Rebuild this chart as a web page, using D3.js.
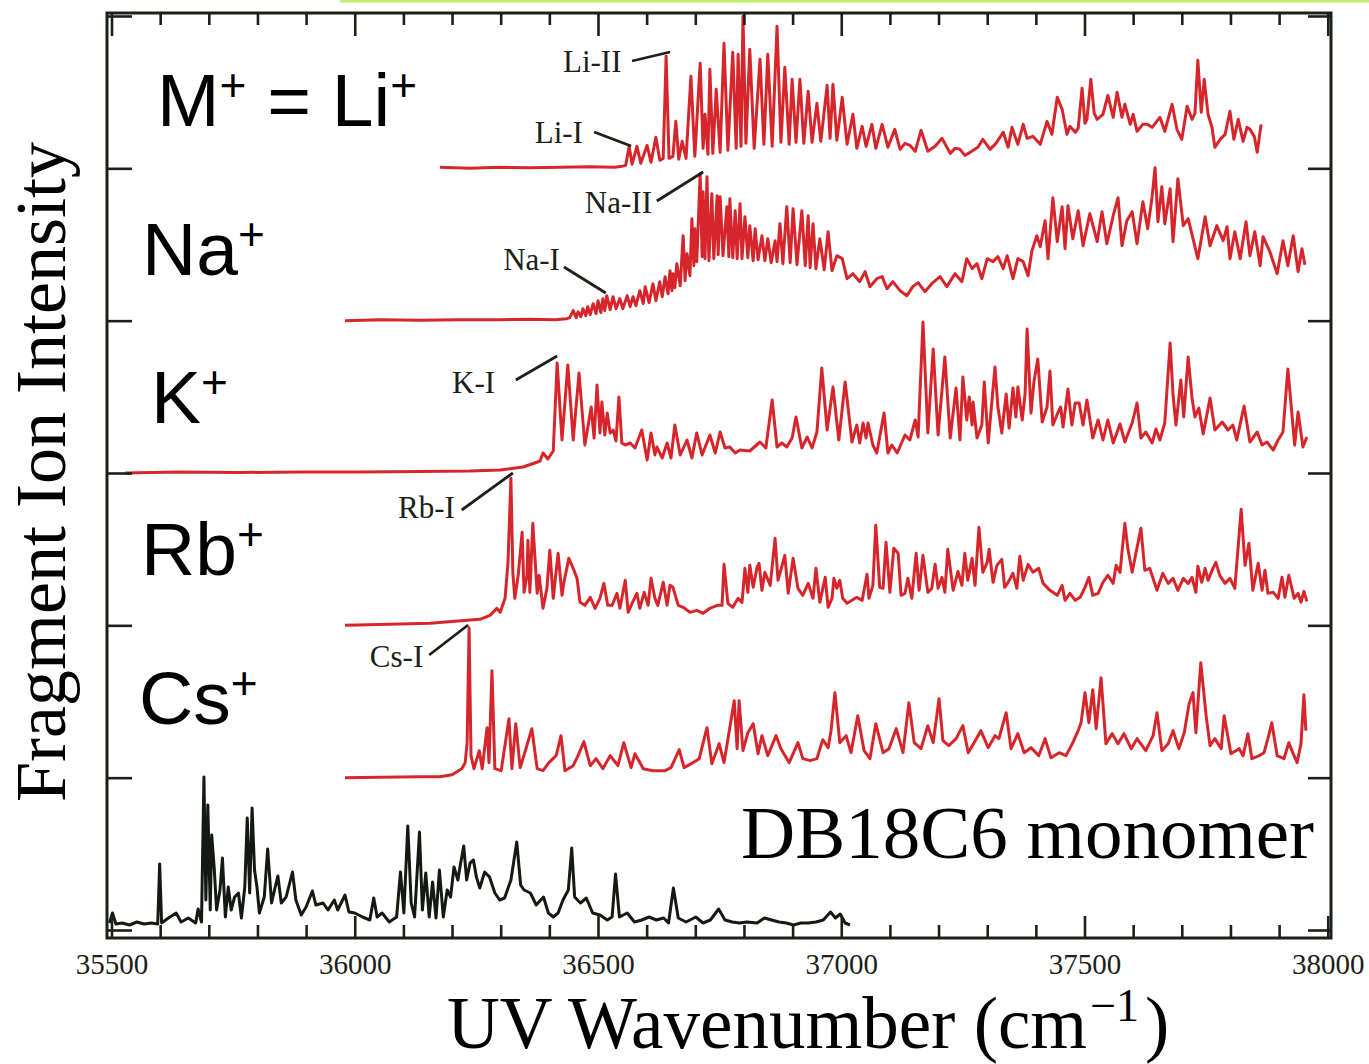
<!DOCTYPE html>
<html><head><meta charset="utf-8">
<script src="https://cdn.jsdelivr.net/npm/d3@7"></script>
<style>body{margin:0;background:#fff}svg{display:block}text{white-space:pre}</style>
</head><body>
<svg id="chart" width="1369" height="1064"></svg>
<script>
// ---------- data (wavenumber cm^-1, relative fragment-ion intensity a.u.) ----------
const xMajorTicks = [35500, 36000, 36500, 37000, 37500, 38000];
const panelNames = ["DB18C6", "Cs", "Rb", "K", "Na", "Li"];

const liSpectrum = [[36175,1],[36237,0],[36299,1],[36360,0.5],[36422,1],[36484,1.5],[36535,1],[36549,2],[36557,3],
[36564,22],[36570,4],[36580,22],[36588,5],[36601,23],[36609,6],[36619,31],[36627,8],[36634,10],[36640,112],[36646,10],
[36654,12],[36660,47],[36666,9],[36673,27],[36681,10],[36691,92],[36699,12],[36710,105],[36716,20],[36720,54],[36726,14],
[36730,99],[36736,15],[36743,79],[36751,16],[36759,125],[36767,18],[36777,116],[36784,20],[36788,114],[36794,22],[36798,152],
[36804,25],[36812,119],[36821,20],[36833,109],[36841,24],[36849,114],[36858,22],[36868,142],[36876,26],[36884,101],[36893,24],
[36899,89],[36907,26],[36915,89],[36923,25],[36932,77],[36940,26],[36950,65],[36958,27],[36971,83],[36977,30],[36983,84],
[36991,28],[37002,71],[37012,24],[37024,54],[37032,20],[37043,42],[37051,22],[37063,44],[37071,20],[37084,44],[37096,21],
[37110,39],[37121,19],[37131,25],[37141,23],[37152,17],[37164,38],[37178,17],[37193,22],[37207,30],[37224,15],[37234,20],
[37244,19],[37254,13],[37265,16],[37281,21],[37291,29],[37306,19],[37318,25],[37333,36],[37343,21],[37351,41],[37363,24],
[37374,44],[37382,30],[37394,32],[37409,24],[37423,47],[37433,34],[37444,71],[37454,59],[37464,34],[37470,42],[37481,36],
[37487,40],[37495,80],[37501,45],[37505,49],[37513,89],[37520,55],[37526,49],[37538,54],[37548,73],[37559,51],[37567,76],
[37577,51],[37583,64],[37594,44],[37600,54],[37608,37],[37620,44],[37629,44],[37639,41],[37655,51],[37665,37],[37680,64],
[37690,39],[37700,29],[37711,62],[37721,49],[37727,55],[37733,108],[37740,56],[37746,89],[37754,54],[37762,41],[37768,21],
[37779,29],[37789,34],[37799,57],[37807,29],[37816,49],[37826,27],[37834,41],[37840,39],[37849,32],[37855,16],[37863,44]];

const naSpectrum = [[35980,0],[36052,1],[36134,0.5],[36216,1],[36299,1],[36360,1.5],[36412,1],[36436,2],[36442,3],[36449,10],
[36455,3],[36459,9],[36465,4],[36469,12],[36475,5],[36479,14],[36484,6],[36490,17],[36496,7],[36500,20],[36506,8],[36510,22],
[36514,10],[36518,25],[36525,11],[36531,24],[36537,12],[36545,22],[36551,12],[36560,25],[36566,14],[36572,24],[36578,15],
[36586,30],[36593,17],[36597,34],[36605,18],[36613,37],[36619,20],[36627,39],[36632,24],[36638,44],[36644,27],[36648,50],
[36652,30],[36654,47],[36658,33],[36662,57],[36669,35],[36675,85],[36679,40],[36683,67],[36689,45],[36693,102],[36697,55],
[36699,92],[36703,59],[36710,147],[36714,64],[36716,129],[36720,62],[36724,144],[36728,60],[36734,127],[36738,62],[36745,125],
[36747,66],[36751,124],[36757,65],[36765,114],[36769,64],[36771,122],[36777,63],[36782,110],[36786,62],[36792,117],[36796,62],
[36802,104],[36808,63],[36812,95],[36819,60],[36823,92],[36829,61],[36837,85],[36843,60],[36849,82],[36856,58],[36864,80],
[36868,59],[36874,97],[36880,57],[36888,114],[36895,58],[36901,112],[36909,56],[36919,110],[36926,55],[36932,105],[36936,53],
[36942,97],[36948,52],[36956,82],[36965,51],[36973,89],[36981,50],[36991,65],[37002,62],[37012,42],[37024,47],[37038,39],
[37049,49],[37059,34],[37073,42],[37084,44],[37094,32],[37106,39],[37121,30],[37135,25],[37147,34],[37158,38],[37172,29],
[37186,37],[37203,44],[37217,34],[37234,47],[37248,39],[37258,62],[37269,52],[37279,57],[37289,42],[37300,62],[37312,59],
[37322,64],[37333,52],[37341,65],[37353,42],[37363,62],[37374,59],[37384,45],[37392,70],[37402,85],[37409,74],[37419,100],
[37425,62],[37435,123],[37444,79],[37454,114],[37460,72],[37466,115],[37476,82],[37487,110],[37497,75],[37511,107],[37526,79],
[37536,109],[37546,77],[37559,105],[37569,123],[37577,75],[37587,100],[37598,109],[37608,77],[37620,119],[37630,92],[37639,124],
[37645,153],[37651,99],[37659,134],[37665,97],[37676,132],[37682,79],[37692,142],[37703,95],[37713,102],[37723,82],[37733,62],
[37748,104],[37758,75],[37772,95],[37785,80],[37793,94],[37799,62],[37809,89],[37820,62],[37832,99],[37840,65],[37850,89],
[37861,55],[37867,84],[37881,69],[37896,47],[37908,80],[37918,55],[37929,85],[37939,49],[37947,72],[37953,56]];

const kSpectrum = [[35528,0],[35641,1],[35764,0.5],[35887,1],[36011,1],[36134,1.5],[36237,2],[36299,3],[36346,6],[36370,10],
[36381,12],[36387,20],[36397,14],[36408,22],[36416,110],[36426,33],[36438,108],[36449,33],[36461,100],[36473,28],[36486,66],
[36492,35],[36498,88],[36504,40],[36508,71],[36514,38],[36519,60],[36525,40],[36531,43],[36537,32],[36543,76],[36549,30],
[36556,28],[36566,30],[36576,25],[36590,43],[36601,13],[36609,40],[36617,18],[36621,26],[36632,15],[36642,30],[36650,15],
[36658,48],[36669,18],[36683,33],[36693,15],[36703,40],[36714,18],[36730,38],[36741,20],[36751,41],[36761,25],[36771,26],
[36782,20],[36792,23],[36812,22],[36833,31],[36845,25],[36858,73],[36868,26],[36878,30],[36888,26],[36899,35],[36907,56],
[36919,25],[36930,36],[36940,25],[36950,41],[36960,105],[36971,43],[36983,86],[36995,33],[37008,91],[37022,31],[37032,48],
[37038,30],[37045,50],[37051,35],[37055,50],[37065,28],[37073,20],[37088,60],[37096,20],[37104,28],[37115,20],[37131,38],
[37141,33],[37152,53],[37158,36],[37168,151],[37178,40],[37189,124],[37199,38],[37213,116],[37224,35],[37236,85],[37244,33],
[37250,96],[37258,53],[37263,76],[37269,48],[37271,71],[37279,35],[37289,48],[37294,91],[37302,30],[37316,106],[37322,66],
[37330,40],[37339,79],[37345,45],[37353,85],[37359,56],[37363,86],[37372,53],[37378,80],[37382,144],[37390,60],[37396,91],
[37404,114],[37413,51],[37423,66],[37429,102],[37435,48],[37445,60],[37451,66],[37456,46],[37466,84],[37474,48],[37481,70],
[37489,70],[37497,48],[37505,73],[37517,35],[37528,53],[37538,33],[37548,53],[37559,30],[37573,49],[37583,31],[37598,50],
[37608,70],[37616,35],[37626,41],[37639,30],[37647,44],[37655,33],[37665,50],[37676,130],[37682,78],[37688,48],[37698,93],
[37704,56],[37713,116],[37721,75],[37727,56],[37735,65],[37744,39],[37758,75],[37768,43],[37783,51],[37795,43],[37805,48],
[37813,33],[37828,67],[37840,31],[37855,41],[37865,28],[37875,31],[37888,23],[37898,33],[37908,41],[37918,104],[37926,61],
[37932,28],[37939,61],[37949,26],[37957,36]];

const rbSpectrum = [[35980,0],[36072,1],[36155,2],[36231,5],[36257,6],[36278,10],[36284,13],[36292,17],[36299,13],[36309,27],
[36315,63],[36321,147],[36325,52],[36329,27],[36336,50],[36344,93],[36348,33],[36354,50],[36356,85],[36360,33],[36366,102],
[36375,32],[36379,50],[36387,17],[36395,37],[36401,75],[36408,27],[36418,72],[36426,30],[36430,43],[36440,67],[36449,57],
[36457,47],[36463,23],[36473,20],[36484,28],[36494,17],[36504,27],[36512,42],[36520,20],[36529,20],[36539,32],[36545,17],
[36556,45],[36562,13],[36570,22],[36580,32],[36586,17],[36595,33],[36603,20],[36609,47],[36617,27],[36623,20],[36634,43],
[36642,20],[36648,40],[36654,38],[36665,20],[36675,18],[36689,13],[36703,15],[36716,12],[36730,17],[36745,20],[36755,20],
[36759,61],[36767,22],[36777,18],[36788,27],[36796,23],[36802,57],[36808,33],[36812,60],[36819,38],[36827,58],[36831,62],
[36837,35],[36843,53],[36854,40],[36864,87],[36870,45],[36884,70],[36891,32],[36901,67],[36911,37],[36921,30],[36932,42],
[36942,27],[36948,57],[36956,23],[36967,48],[36973,18],[36981,27],[36985,47],[36991,37],[36997,45],[37003,27],[37012,22],
[37022,25],[37032,28],[37043,25],[37053,51],[37057,27],[37065,40],[37071,100],[37079,38],[37086,37],[37092,83],[37100,33],
[37108,77],[37117,72],[37123,30],[37131,32],[37137,47],[37145,27],[37154,72],[37160,35],[37168,70],[37178,33],[37186,37],
[37193,61],[37199,37],[37207,48],[37213,33],[37219,76],[37230,35],[37240,54],[37248,40],[37254,72],[37260,45],[37269,67],
[37275,40],[37283,98],[37291,53],[37300,63],[37304,76],[37312,43],[37320,60],[37330,66],[37336,38],[37343,43],[37353,52],
[37361,37],[37367,69],[37374,45],[37384,61],[37394,53],[37406,57],[37415,42],[37429,35],[37444,30],[37454,40],[37460,25],
[37470,32],[37481,25],[37491,28],[37501,38],[37509,48],[37517,30],[37528,32],[37538,43],[37548,50],[37559,42],[37565,60],
[37573,53],[37583,102],[37589,77],[37598,53],[37604,68],[37616,97],[37624,55],[37634,57],[37649,35],[37661,52],[37672,42],
[37682,47],[37692,35],[37703,47],[37713,42],[37721,48],[37729,33],[37733,59],[37741,43],[37748,57],[37754,45],[37764,57],
[37770,63],[37778,50],[37789,42],[37799,47],[37809,37],[37822,116],[37830,60],[37838,82],[37846,35],[37857,62],[37865,35],
[37871,55],[37877,32],[37888,33],[37898,27],[37906,48],[37912,28],[37920,50],[37931,27],[37939,32],[37945,23],[37951,34],[37957,24]];

const csSpectrum = [[35980,0],[36052,0.5],[36134,1],[36175,1],[36200,3],[36220,9],[36227,15],[36231,35],[36235,150],[36239,22],
[36245,9],[36256,27],[36262,9],[36272,50],[36276,15],[36282,107],[36288,9],[36301,7],[36317,59],[36323,9],[36331,54],[36340,10],
[36352,29],[36364,49],[36375,9],[36387,7],[36399,15],[36414,22],[36424,42],[36432,7],[36449,12],[36459,22],[36471,36],[36484,12],
[36496,19],[36510,9],[36525,22],[36541,12],[36553,35],[36568,10],[36576,24],[36593,9],[36613,7],[36638,7],[36650,10],[36667,28],
[36677,10],[36695,15],[36708,19],[36724,50],[36734,14],[36749,34],[36759,15],[36775,62],[36780,77],[36786,29],[36790,77],[36798,27],
[36808,45],[36819,54],[36829,24],[36837,42],[36849,22],[36866,42],[36876,29],[36893,15],[36911,35],[36921,19],[36936,17],[36950,19],
[36962,38],[36973,30],[36979,47],[36987,85],[36997,35],[37010,42],[37020,25],[37034,62],[37047,27],[37059,19],[37071,54],[37086,25],
[37098,29],[37113,49],[37127,25],[37139,75],[37150,35],[37164,29],[37178,52],[37189,35],[37201,79],[37209,37],[37221,32],[37236,39],
[37250,52],[37261,25],[37273,35],[37287,47],[37302,30],[37316,42],[37324,39],[37339,65],[37349,29],[37363,44],[37376,25],[37390,30],
[37406,22],[37419,39],[37431,20],[37448,25],[37462,22],[37476,35],[37487,47],[37493,55],[37501,85],[37509,55],[37517,88],[37524,49],
[37534,100],[37544,34],[37557,44],[37569,34],[37581,44],[37596,29],[37608,39],[37626,27],[37641,42],[37649,65],[37659,27],[37672,34],
[37682,47],[37694,29],[37705,45],[37715,74],[37723,85],[37729,45],[37739,115],[37750,62],[37758,32],[37768,39],[37781,29],[37787,62],
[37801,24],[37818,29],[37826,22],[37836,44],[37844,19],[37859,22],[37869,25],[37877,39],[37885,55],[37896,22],[37910,19],[37920,35],
[37928,25],[37937,15],[37945,34],[37951,83],[37955,47]];

const dbSpectrum = [[35496,7],[35502,17],[35509,6],[35522,7],[35537,5],[35552,8],[35567,6],[35582,7],[35595,6],[35599,66],[35603,7],
[35617,12],[35633,17],[35643,8],[35658,12],[35673,7],[35678,21],[35685,8],[35690,153],[35694,30],[35698,125],[35703,20],[35706,95],
[35711,63],[35716,20],[35723,40],[35728,72],[35734,13],[35740,43],[35746,20],[35753,33],[35761,37],[35767,12],[35774,43],[35779,112],
[35784,37],[35789,122],[35794,60],[35799,43],[35804,17],[35814,33],[35821,81],[35829,27],[35836,42],[35842,54],[35849,27],[35859,33],
[35872,58],[35879,30],[35890,15],[35900,23],[35913,39],[35920,25],[35935,27],[35945,20],[35958,30],[35965,20],[35980,35],[35988,18],
[36000,17],[36016,13],[36031,10],[36039,32],[36046,13],[36056,17],[36071,8],[36086,13],[36094,58],[36101,17],[36109,104],[36116,27],
[36123,13],[36133,98],[36139,20],[36146,57],[36153,13],[36160,48],[36167,12],[36174,60],[36182,13],[36190,40],[36197,33],[36204,63],
[36212,50],[36217,65],[36224,84],[36230,50],[36237,67],[36244,70],[36250,53],[36257,42],[36267,58],[36277,53],[36288,37],[36298,30],
[36308,32],[36321,50],[36333,88],[36341,45],[36348,40],[36361,37],[36373,25],[36388,33],[36398,17],[36408,13],[36418,17],[36428,30],
[36439,40],[36446,82],[36452,33],[36464,27],[36476,32],[36489,17],[36504,15],[36519,10],[36529,13],[36536,56],[36544,13],[36560,17],
[36575,8],[36590,10],[36605,13],[36620,10],[36635,12],[36645,7],[36655,42],[36665,12],[36681,8],[36701,13],[36716,7],[36731,10],
[36748,21],[36761,10],[36776,8],[36791,7],[36806,8],[36827,7],[36842,12],[36857,10],[36872,8],[36887,7],[36902,5],[36917,7],
[36932,7],[36948,8],[36963,10],[36978,18],[36988,12],[36998,16],[37008,7],[37018,5]];

// panel index: 0 = DB18C6 (bottom) ... 5 = Li (top)
const series = [
  {name: "DB18C6", data: dbSpectrum, panel: 0, color: "#141a12"},
  {name: "Cs", data: csSpectrum, panel: 1, color: "#d7262b"},
  {name: "Rb", data: rbSpectrum, panel: 2, color: "#d7262b"},
  {name: "K",  data: kSpectrum,  panel: 3, color: "#d7262b"},
  {name: "Na", data: naSpectrum, panel: 4, color: "#d7262b"},
  {name: "Li", data: liSpectrum, panel: 5, color: "#d7262b"}
];

// peak annotations: label, text anchor (w, level), leader from (w1,l1) to (w2,l2)  (level in a.u. from bottom)
const annotations = [
  {t: "Li-II", tx: 36428, ty: 858, l: [36570, 869, 36648, 878]},
  {t: "Li-I",  tx: 36370, ty: 787, l: [36492, 798, 36568, 784]},
  {t: "Na-II", tx: 36473, ty: 717, l: [36621, 729, 36716, 758]},
  {t: "Na-I",  tx: 36305, ty: 660, l: [36430, 663, 36516, 637]},
  {t: "K-I",   tx: 36200, ty: 537, l: [36331, 550, 36416, 574]},
  {t: "Rb-I",  tx: 36089, ty: 412, l: [36220, 420, 36325, 457]},
  {t: "Cs-I",  tx: 36031, ty: 263, l: [36153, 275, 36233, 305]}
];

// ---------- layout ----------
const W = 1369, H = 1064;
const frame = {left: 107, right: 1331, top: 13, bottom: 938};
const panelSpan = 914 / 6;
const serif = "'Liberation Serif','Times New Roman',Times,serif";
const sans = "'Liberation Sans',Arial,Helvetica,sans-serif";
const ink = "#1b2119";

const svg = d3.select("#chart");
const x = d3.scaleLinear().domain([35500, 38000]).range([111.5, 1327.75]);
const y = d3.scaleLinear().domain([0, 914]).range([930, 16]);

// top decorative green line
svg.append("rect").attr("x", 340).attr("y", 0).attr("width", W - 340).attr("height", 2.5).attr("fill", "#bdf06a");

// spectra
const line = d3.line().x(d => x(d[0])).y(d => y(d[1]));
series.forEach(s => {
  const off = s.panel * panelSpan;
  svg.append("path")
    .datum(s.data.map(d => [d[0], d[1] + off]))
    .attr("d", line)
    .attr("fill", "none")
    .attr("stroke", s.color)
    .attr("stroke-width", 3)
    .attr("stroke-linejoin", "round");
});

// axes ticks
const minorTicks = d3.range(35500, 38001, 100).filter(v => v % 500 !== 0);
const gB = svg.append("g").attr("transform", `translate(0,${frame.bottom})`);
gB.call(d3.axisBottom(x).tickValues(minorTicks).tickSize(-13).tickFormat(""));
const gBM = svg.append("g").attr("transform", `translate(0,${frame.bottom})`);
gBM.call(d3.axisBottom(x).tickValues(xMajorTicks).tickSize(-22).tickFormat(d3.format("d")).tickPadding(10));
const gT = svg.append("g").attr("transform", `translate(0,${frame.top})`);
gT.call(d3.axisTop(x).tickValues(minorTicks).tickSize(-12).tickFormat(""));
const gTM = svg.append("g").attr("transform", `translate(0,${frame.top})`);
gTM.call(d3.axisTop(x).tickValues(xMajorTicks).tickSize(-23).tickFormat(""));
const panelTicks = d3.range(0, 7).map(i => i * panelSpan);
const gL = svg.append("g").attr("transform", `translate(${frame.left},0)`);
gL.call(d3.axisLeft(y).tickValues(panelTicks).tickSize(-25).tickFormat(""));
const gR = svg.append("g").attr("transform", `translate(${frame.right},0)`);
gR.call(d3.axisRight(y).tickValues(panelTicks).tickSize(-23).tickFormat(""));

svg.selectAll(".domain").remove();
svg.selectAll(".tick line").attr("stroke", ink).attr("stroke-width", 2.6);
gBM.selectAll(".tick text")
  .attr("font-family", serif).attr("font-size", 29).attr("fill", ink)
  .attr("dy", null).attr("y", 36);

// frame
svg.append("rect")
  .attr("x", frame.left).attr("y", frame.top)
  .attr("width", frame.right - frame.left).attr("height", frame.bottom - frame.top)
  .attr("fill", "none").attr("stroke", ink).attr("stroke-width", 3);

// annotations
annotations.forEach(a => {
  svg.append("line")
    .attr("x1", x(a.l[0])).attr("y1", y(a.l[1]))
    .attr("x2", x(a.l[2])).attr("y2", y(a.l[3]))
    .attr("stroke", ink).attr("stroke-width", 2.8);
  svg.append("text").attr("x", x(a.tx)).attr("y", y(a.ty))
    .attr("font-family", serif).attr("font-size", 31).attr("fill", ink).text(a.t);
});

// cation labels
const ionLabels = [
  {pre: "M", sup1: "+", mid: " = Li", sup2: "+", x: 157, y: 126},
  {pre: "Na", sup1: "+", x: 142, y: 275},
  {pre: "K", sup1: "+", x: 151, y: 423},
  {pre: "Rb", sup1: "+", x: 141, y: 575},
  {pre: "Cs", sup1: "+", x: 139, y: 724}
];
ionLabels.forEach(l => {
  const t = svg.append("text").attr("x", l.x).attr("y", l.y)
    .attr("font-family", sans).attr("font-size", 75).attr("fill", "#000");
  t.append("tspan").text(l.pre);
  t.append("tspan").attr("font-size", 46).attr("dy", -25).text(l.sup1);
  if (l.mid) {
    t.append("tspan").attr("dy", 25).text(l.mid);
    t.append("tspan").attr("font-size", 46).attr("dy", -25).text(l.sup2);
  }
});

svg.append("text").attr("x", 1314).attr("y", 858).attr("text-anchor", "end")
  .attr("font-family", serif).attr("font-size", 75).attr("fill", "#000").text("DB18C6 monomer");

// axis titles
const xt = svg.append("text").attr("x", 447).attr("y", 1048)
  .attr("font-family", serif).attr("font-size", 73).attr("fill", "#000");
xt.append("tspan").text("UV Wavenumber (cm");
xt.append("tspan").attr("font-size", 46).attr("dy", -27).attr("dx", 3).text("\u22121");
xt.append("tspan").attr("dy", 27).attr("dx", 6).text(")");

svg.append("text").attr("transform", "translate(65,472) rotate(-90)").attr("text-anchor", "middle")
  .attr("font-family", serif).attr("font-size", 72).attr("fill", "#000").text("Fragment Ion Intensity");
</script>
</body></html>
